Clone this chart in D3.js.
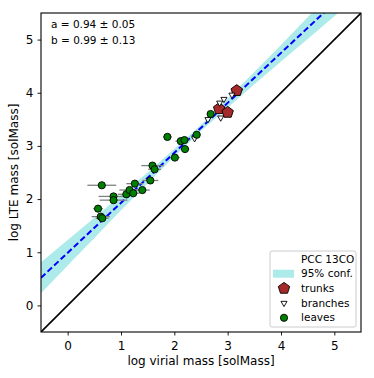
<!DOCTYPE html>
<html>
<head>
<meta charset="utf-8">
<script src="https://cdn.jsdelivr.net/npm/d3@7"></script>
<style>
  body { margin: 0; background: #fff; }
  text { font-family: "DejaVu Sans", sans-serif; fill: #000; }
</style>
</head>
<body>
<svg id="chart" width="374" height="378"></svg>
<script>
// fit parameters (y = a x + b)
var fitA = 0.94;
var fitB = 0.99;
var fitText = ['a = 0.94 \u00b1 0.05', 'b = 0.99 \u00b1 0.13'];

// 95% confidence band
var bandX     = [-0.5, 0, 0.5, 1, 1.5, 2, 2.5, 3, 3.5, 4, 4.5, 5, 5.5];
var bandLower = [0.23, 0.75, 1.27, 1.79, 2.30, 2.80, 3.28, 3.72, 4.16, 4.59, 5.01, 5.44, 5.86];
var bandUpper = [0.81, 1.23, 1.65, 2.07, 2.50, 2.94, 3.40, 3.89, 4.39, 4.90, 5.42, 5.94, 6.46];

// trunks
var trunkX = [3.17, 2.84, 3.00];
var trunkY = [4.04, 3.70, 3.63];

// branches
var branchX = [2.38, 2.63, 2.87, 2.85, 2.93, 3.08];
var branchY = [3.14, 3.50, 3.53, 3.81, 3.88, 3.96];

// leaves (x, y, x error)
var leafX   = [0.57, 0.62, 0.65, 0.64, 0.86, 0.86, 1.10, 1.16, 1.23, 1.26, 1.40, 1.55, 1.59, 1.63, 1.87, 2.01, 2.12, 2.19, 2.20, 2.42, 2.68];
var leafY   = [1.82, 1.67, 1.64, 2.26, 2.05, 1.98, 2.09, 2.17, 2.11, 2.29, 2.17, 2.35, 2.63, 2.56, 3.17, 2.78, 3.09, 3.11, 2.94, 3.21, 3.60];
var leafErr = [0.09, 0.17, 0.12, 0.27, 0.28, 0.26, 0.16, 0.19, 0.12, 0.16, 0.14, 0.15, 0.21, 0.12, 0.08, 0.09, 0.10, 0.09, 0.08, 0.07, 0.05];

var xTicks = [0, 1, 2, 3, 4, 5];
var yTicks = [0, 1, 2, 3, 4, 5];
var legendLabels = ['PCC 13CO', '95% conf.', 'trunks', 'branches', 'leaves'];

var margin = {left: 41, top: 13, right: 13, bottom: 46};
var w = 374 - margin.left - margin.right;
var h = 378 - margin.top - margin.bottom;

var svg = d3.select('#chart');
var g = svg.append('g').attr('transform', 'translate(' + margin.left + ',' + margin.top + ')');

var x = d3.scaleLinear().domain([-0.5, 5.5]).range([0, w]);
var y = d3.scaleLinear().domain([-0.5, 5.5]).range([h, 0]);

g.append('clipPath').attr('id', 'clip')
  .append('rect').attr('width', w).attr('height', h);

var plot = g.append('g').attr('clip-path', 'url(#clip)');

// confidence band
var area = d3.area()
  .x(function(d, i) { return x(bandX[i]); })
  .y0(function(d, i) { return y(bandLower[i]); })
  .y1(function(d, i) { return y(bandUpper[i]); });
plot.append('path').datum(bandX)
  .attr('d', area)
  .attr('fill', '#00bfbf')
  .attr('fill-opacity', 0.32);

// fit line
var dom = x.domain();
plot.append('line')
  .attr('x1', x(dom[0])).attr('y1', y(fitA * dom[0] + fitB))
  .attr('x2', x(dom[1])).attr('y2', y(fitA * dom[1] + fitB))
  .attr('stroke', '#0000ff').attr('stroke-width', 2)
  .attr('stroke-dasharray', '6,3');

// one-to-one line
plot.append('line')
  .attr('x1', x(dom[0])).attr('y1', y(dom[0]))
  .attr('x2', x(dom[1])).attr('y2', y(dom[1]))
  .attr('stroke', '#000').attr('stroke-width', 1.6);

// pentagon path around 0,0
var pentagon = function(r) {
  var pts = d3.range(5).map(function(k) {
    var ang = -Math.PI / 2 + k * 2 * Math.PI / 5;
    return [r * Math.cos(ang), r * Math.sin(ang)];
  });
  return d3.line()(pts) + 'Z';
};

// trunks
plot.append('g').selectAll('path')
  .data(trunkX)
  .enter()
  .append('path')
  .attr('d', pentagon(6))
  .attr('transform', function(d, i) { return 'translate(' + x(d) + ',' + y(trunkY[i]) + ')'; })
  .attr('fill', '#a52a2a')
  .attr('stroke', '#000').attr('stroke-width', 0.9);

// branches
var tri = d3.symbol().type(d3.symbolTriangle).size(16);
plot.append('g').selectAll('path')
  .data(branchX)
  .enter()
  .append('path')
  .attr('d', tri)
  .attr('transform', function(d, i) { return 'translate(' + x(d) + ',' + y(branchY[i]) + ') rotate(180)'; })
  .attr('fill', '#fff')
  .attr('stroke', '#000').attr('stroke-width', 0.9);

// leaves error bars
plot.append('g').selectAll('line')
  .data(leafX)
  .enter()
  .append('line')
  .attr('x1', function(d, i) { return x(d - leafErr[i]); })
  .attr('x2', function(d, i) { return x(d + leafErr[i]); })
  .attr('y1', function(d, i) { return y(leafY[i]); })
  .attr('y2', function(d, i) { return y(leafY[i]); })
  .attr('stroke', '#808080').attr('stroke-width', 1.3);

// leaves
plot.append('g').selectAll('circle')
  .data(leafX)
  .enter()
  .append('circle')
  .attr('cx', function(d) { return x(d); })
  .attr('cy', function(d, i) { return y(leafY[i]); })
  .attr('r', 3.6)
  .attr('fill', '#008000')
  .attr('stroke', '#000').attr('stroke-width', 0.9);

// axes
var xAxis = g.append('g').attr('transform', 'translate(0,' + h + ')')
  .call(d3.axisBottom(x).tickValues(xTicks).tickSize(3.5).tickPadding(5.5).tickFormat(d3.format('d')));
var yAxis = g.append('g')
  .call(d3.axisLeft(y).tickValues(yTicks).tickSize(3.5).tickPadding(4).tickFormat(d3.format('d')));
[xAxis, yAxis].forEach(function(ax) {
  ax.select('.domain').remove();
  ax.selectAll('text').attr('font-size', 12).attr('font-family', '"DejaVu Sans", sans-serif');
  ax.selectAll('line').attr('stroke', '#000').attr('stroke-width', 0.9);
});

// frame
g.append('rect').attr('width', w).attr('height', h)
  .attr('fill', 'none').attr('stroke', '#000').attr('stroke-width', 1.1);

// axis labels
svg.append('text')
  .attr('x', margin.left + w / 2).attr('y', 365)
  .attr('text-anchor', 'middle').attr('font-size', 12)
  .text('log virial mass [solMass]');
svg.append('text')
  .attr('transform', 'translate(18,' + (margin.top + h / 2) + ') rotate(-90)')
  .attr('text-anchor', 'middle').attr('font-size', 12)
  .text('log LTE mass [solMass]');

// fit annotation
g.selectAll('.fit')
  .data(fitText)
  .enter()
  .append('text')
  .attr('class', 'fit')
  .attr('x', 10)
  .attr('y', function(d, i) { return 15 + i * 16; })
  .attr('font-size', 10.5)
  .text(function(d) { return d; });

// legend
var leg = svg.append('g').attr('transform', 'translate(270,251)');
leg.append('rect')
  .attr('width', 86).attr('height', 76).attr('rx', 2)
  .attr('fill', '#fff').attr('fill-opacity', 0.8)
  .attr('stroke', '#ccc').attr('stroke-width', 1);

var rowY = function(i) { return 8 + i * 14.7; };
leg.selectAll('.lab')
  .data(legendLabels)
  .enter()
  .append('text')
  .attr('class', 'lab')
  .attr('x', 31)
  .attr('y', function(d, i) { return rowY(i); })
  .attr('dy', '0.35em')
  .attr('font-size', 10.5)
  .text(function(d) { return d; });

leg.append('rect')
  .attr('x', 3).attr('y', rowY(1) - 4).attr('width', 21).attr('height', 8)
  .attr('fill', '#00bfbf').attr('fill-opacity', 0.32);
leg.append('path')
  .attr('d', pentagon(6))
  .attr('transform', 'translate(14,' + rowY(2) + ')')
  .attr('fill', '#a52a2a').attr('stroke', '#000').attr('stroke-width', 0.9);
leg.append('path')
  .attr('d', tri)
  .attr('transform', 'translate(14,' + rowY(3) + ') rotate(180)')
  .attr('fill', '#fff').attr('stroke', '#000').attr('stroke-width', 0.9);
leg.append('circle')
  .attr('cx', 14).attr('cy', rowY(4)).attr('r', 3.6)
  .attr('fill', '#008000').attr('stroke', '#000').attr('stroke-width', 0.9);
</script>
</body>
</html>
